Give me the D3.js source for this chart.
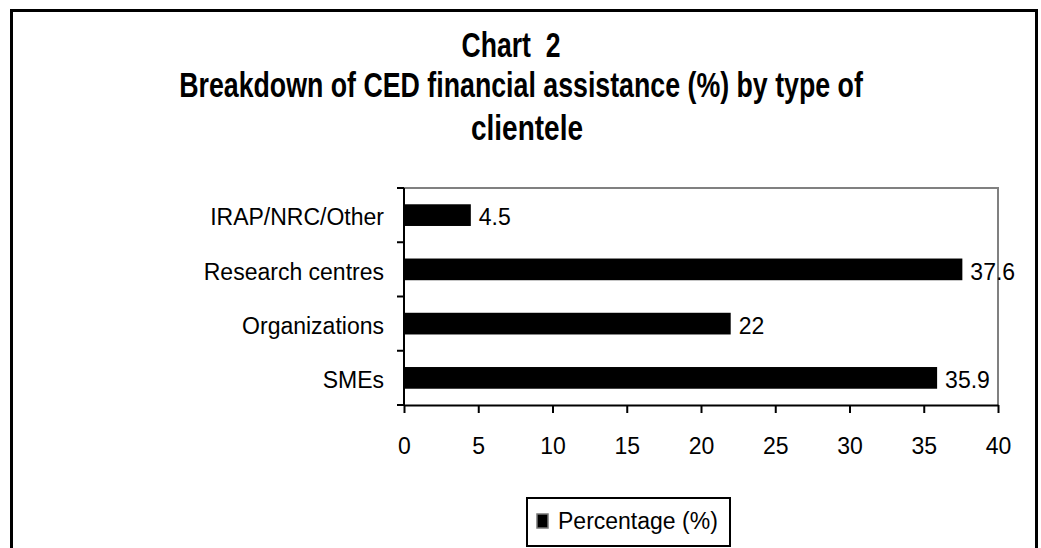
<!DOCTYPE html>
<html>
<head>
<meta charset="utf-8">
<script src="https://cdn.jsdelivr.net/npm/d3@7"></script>
<style>
  html, body { margin: 0; padding: 0; background: #fff; }
  svg { display: block; font-family: "Liberation Sans", Arial, sans-serif; }
</style>
</head>
<body>
<svg id="chart" width="1041" height="548"></svg>
<script>
const categories = ["IRAP/NRC/Other", "Research centres", "Organizations", "SMEs"];
const values = [4.5, 37.6, 22, 35.9];
const xTicks = [0, 5, 10, 15, 20, 25, 30, 35, 40];
const titleLines = ["Chart  2", "Breakdown of CED financial assistance (%) by type of", "clientele"];
const legendLabel = "Percentage (%)";

const svg = d3.select("#chart");

// outer frame
svg.append("rect")
  .attr("x", 11.5).attr("y", 10.5)
  .attr("width", 1025).attr("height", 600)
  .attr("fill", "none").attr("stroke", "#000").attr("stroke-width", 3);

// title (condensed bold lines, centred)
const titleSpecs = [
  { cx: 511, y: 57, w: 99 },
  { cx: 521, y: 97, w: 684 },
  { cx: 527, y: 140, w: 112 }
];
titleLines.forEach((t, i) => {
  const g = svg.append("g");
  const txt = g.append("text")
    .attr("x", 0).attr("y", 0)
    .attr("text-anchor", "middle")
    .attr("font-size", 36).attr("font-weight", "bold")
    .style("white-space", "pre")
    .attr("fill", "#000")
    .text(t);
  const natural = txt.node().getComputedTextLength();
  const s = titleSpecs[i].w / natural;
  g.attr("transform", `translate(${titleSpecs[i].cx},${titleSpecs[i].y}) scale(${s},1)`);
});

const plot = { left: 404, right: 998, top: 188, bottom: 405 };

const x = d3.scaleLinear().domain([0, 40]).range([plot.left, plot.right]);
const y = d3.scaleBand().domain(categories).range([plot.top, plot.bottom])
  .paddingInner(0.6).paddingOuter(0.3);

// plot area gray border (top & right)
svg.append("path")
  .attr("d", `M${plot.left},${plot.top}H${plot.right}V${plot.bottom}`)
  .attr("fill", "none").attr("stroke", "#808080").attr("stroke-width", 2);

// bars
svg.append("g").selectAll("rect")
  .data(categories)
  .join("rect")
  .attr("x", x(0))
  .attr("y", d => y(d))
  .attr("width", (d, i) => x(values[i]) - x(0))
  .attr("height", y.bandwidth())
  .attr("fill", "#000");

// value labels
svg.append("g").selectAll("text")
  .data(categories)
  .join("text")
  .attr("x", (d, i) => x(values[i]) + 8)
  .attr("y", d => y(d) + y.bandwidth() / 2)
  .attr("dy", "0.45em")
  .attr("font-size", 23)
  .attr("fill", "#000")
  .text((d, i) => String(values[i]));

// bottom axis
const xAxis = d3.axisBottom(x).tickValues(xTicks).tickSizeInner(8).tickSizeOuter(0).tickPadding(25)
  .tickFormat(d3.format("d"));
const gx = svg.append("g").attr("transform", `translate(0,${plot.bottom})`).call(xAxis);
gx.select(".domain").attr("stroke", "#000").attr("stroke-width", 2);
gx.selectAll(".tick line").attr("stroke", "#000").attr("stroke-width", 2);
gx.selectAll(".tick text").attr("font-size", 23).attr("font-family", "Liberation Sans, Arial, sans-serif").attr("fill", "#000");

// left axis (labels)
const yAxis = d3.axisLeft(y).tickSizeInner(0).tickSizeOuter(0).tickPadding(20);
const gy = svg.append("g").attr("transform", `translate(${plot.left},0)`).call(yAxis);
gy.select(".domain").remove();
gy.selectAll(".tick text").attr("font-size", 23).attr("dy", "0.45em")
  .attr("font-family", "Liberation Sans, Arial, sans-serif").attr("fill", "#000");

// left axis line and boundary ticks
const step = y.step();
const boundaries = categories.map(c => y(c) - step * y.paddingInner() / 2)
  .map((b, i) => i === 0 ? y.range()[0] : b);
boundaries.push(y.range()[1]);
svg.append("line")
  .attr("x1", plot.left).attr("x2", plot.left)
  .attr("y1", plot.top).attr("y2", plot.bottom + 1)
  .attr("stroke", "#000").attr("stroke-width", 2);
svg.append("g").selectAll("line")
  .data(boundaries)
  .join("line")
  .attr("x1", plot.left - 7).attr("x2", plot.left)
  .attr("y1", d => d).attr("y2", d => d)
  .attr("stroke", "#000").attr("stroke-width", 2);

// legend
const lg = svg.append("g");
lg.append("rect")
  .attr("x", 527).attr("y", 498)
  .attr("width", 203).attr("height", 48)
  .attr("fill", "#fff").attr("stroke", "#000").attr("stroke-width", 2);
lg.append("rect")
  .attr("x", 537).attr("y", 514)
  .attr("width", 11).attr("height", 14)
  .attr("fill", "#000").attr("stroke", "#777").attr("stroke-width", 1.5);
lg.append("text")
  .attr("x", 558).attr("y", 529)
  .attr("font-size", 23).attr("fill", "#000")
  .text(legendLabel);
</script>
</body>
</html>
